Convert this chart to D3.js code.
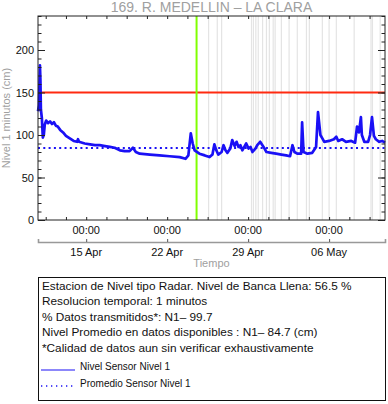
<!DOCTYPE html>
<html><head><meta charset="utf-8">
<script src="https://cdn.jsdelivr.net/npm/d3@7"></script>
<style>body{margin:0;background:#fff}svg{display:block}text{font-family:"Liberation Sans",Arial,Helvetica,sans-serif}</style>
</head><body><svg id="c" width="388" height="404"></svg>
<script>
const title = "169. R. MEDELLIN – LA CLARA";
const yLabel = "Nivel 1 minutos (cm)";
const xLabel = "Tiempo";
const startTime = "2024-04-10T20:00:00";
const spanHours = 720;
const hours = [0,2,3,4,5,6,8,10,12,14,17,21,25,29,33,37,41,46,52,58,66,74,81,83,85,97,108,118,128,139,149,159,170,180,190,197,203,211,232,252,273,294,306,312,317,321,325,335,346,356,362,366,370,374,381,385,389,393,399,403,408,412,416,420,424,428,432,437,441,445,451,455,461,468,474,484,494,505,515,523,528,532,538,546,548,551,559,569,577,581,586,590,594,604,614,619,623,631,639,650,658,662,666,670,672,677,685,689,693,697,701,708,714,720];
const levels = [128,135,160,182,165,130,120,97,100,112,117,114,116,113,115,111,110,106,103,99,96,93,92,95,92,90,89,88,88,87,86,85,82,81,81,85,80,78,77,76,75,74,72,76,102,90,82,78,76,74,77,89,82,77,80,88,82,79,84,94,87,92,86,88,82,86,90,84,86,80,84,88,92,86,80,79,78,77,76,75,88,80,78,78,115,80,78,79,86,127,100,96,92,93,95,98,93,95,92,93,91,110,103,121,100,92,92,100,121,99,95,92,93,91];
const meanLevel = 84.7;
const bankfullLevel = 150;
const markerHour = 329;
const gapHours = [354,372,381,443,447,452,457,466,474,480,488,492,505,521,538,557,563,590,604,619,656,691,694,710];
const yTicks = [0,50,100,150,200];
const majorDates = ["2024-04-15T00:00:00","2024-04-22T00:00:00","2024-04-29T00:00:00","2024-05-06T00:00:00"];
const timeLabels = ["00:00","00:00","00:00","00:00"];
const dateLabels = ["15 Apr","22 Apr","29 Apr","06 May"];
const infoLines = [
  "Estacion de Nivel tipo Radar. Nivel de Banca Llena: 56.5 %",
  "Resolucion temporal: 1 minutos",
  "% Datos transmitidos*: N1– 99.7",
  "Nivel Promedio en datos disponibles : N1– 84.7 (cm)",
  "*Calidad de datos aun sin verificar exhaustivamente"
];
const legendLabels = ["Nivel Sensor Nivel 1","Promedio Sensor Nivel 1"];

const svg = d3.select("#c");
const L = 38, R = 385, T = 16, B = 220;
const t0 = new Date(startTime);
const hr = h => new Date(t0.getTime() + h * 3600e3);
const x = d3.scaleTime().domain([t0, hr(spanHours)]).range([L, R]);
const y = d3.scaleLinear().domain([0, 240]).range([B, T]);
const majors = majorDates.map(d => new Date(d));
const minors = d3.range(-2, 16).map(k => new Date(majors[0].getTime() + k * 42 * 3600e3)).filter(d => d >= t0 && d <= hr(spanHours));

// gap lines
svg.append("g").selectAll("line").data(gapHours).join("line")
  .attr("x1", d => x(hr(d))).attr("x2", d => x(hr(d)))
  .attr("y1", T).attr("y2", B).attr("stroke", "#e4e4e4").attr("stroke-width", 1.2);

// bankfull
svg.append("line").attr("x1", L).attr("x2", R).attr("y1", y(bankfullLevel)).attr("y2", y(bankfullLevel))
  .attr("stroke", "#ff2a10").attr("stroke-width", 2);

// marker
svg.append("line").attr("x1", x(hr(markerHour))).attr("x2", x(hr(markerHour))).attr("y1", T).attr("y2", B)
  .attr("stroke", "#80ff00").attr("stroke-width", 2);

// data line
const pts = hours.map((h, i) => [hr(h), levels[i]]);
svg.append("path").datum(pts)
  .attr("d", d3.line().x(d => x(d[0])).y(d => y(d[1])))
  .attr("fill", "none").attr("stroke", "#1a10f5").attr("stroke-width", 2.7).attr("stroke-linejoin", "round");

// mean
svg.append("line").attr("x1", L).attr("x2", R).attr("y1", y(meanLevel)).attr("y2", y(meanLevel))
  .attr("stroke", "#1a10f5").attr("stroke-width", 2).attr("stroke-dasharray", "2,3.3");

// axes (inward ticks)
function styleAx(g){ g.select(".domain").remove(); g.selectAll("line").attr("stroke","#222"); g.selectAll("text").attr("fill","#111").style("font-family",'"Liberation Sans",Arial,sans-serif'); }
svg.append("g").attr("transform", `translate(0,${B})`).call(d3.axisBottom(x).tickValues(minors).tickSize(-3).tickFormat("")).call(styleAx);
svg.append("g").attr("transform", `translate(0,${T})`).call(d3.axisTop(x).tickValues(minors).tickSize(-3).tickFormat("")).call(styleAx);
svg.append("g").attr("transform", `translate(${L},0)`).call(d3.axisLeft(y).tickValues(d3.range(0, 241, 10)).tickSize(-3.5).tickFormat("")).call(styleAx);
svg.append("g").attr("transform", `translate(${L},0)`).call(d3.axisLeft(y).tickValues(yTicks).tickSize(-7).tickPadding(4)).call(styleAx)
  .selectAll("text").attr("font-size", 11);
svg.append("g").attr("transform", `translate(${R},0)`).call(d3.axisRight(y).tickValues(d3.range(0, 241, 10)).tickSize(-3.5).tickFormat("")).call(styleAx);
svg.append("g").attr("transform", `translate(${R},0)`).call(d3.axisRight(y).tickValues(yTicks).tickSize(-7).tickFormat("")).call(styleAx);

// frame
svg.append("rect").attr("x", L).attr("y", T).attr("width", R - L).attr("height", B - T)
  .attr("fill", "none").attr("stroke", "#222").attr("stroke-width", 1);

// x time labels
svg.append("g").selectAll("text").data(majors).join("text")
  .attr("x", d => x(d)).attr("y", 234).attr("text-anchor", "middle").attr("font-size", 11).attr("fill", "#111")
  .text((d, i) => timeLabels[i]);
// second axis
const ax2 = svg.append("g").attr("transform", "translate(0,242)").call(d3.axisBottom(x).tickValues(majors).tickSize(-3).tickFormat(""));
ax2.select(".domain").attr("stroke", "#999").attr("stroke-width", 1.6);
ax2.selectAll("line").attr("stroke", "#555");
svg.append("g").selectAll("text").data(majors).join("text")
  .attr("x", d => x(d)).attr("y", 256).attr("text-anchor", "middle").attr("font-size", 11).attr("fill", "#111")
  .text((d, i) => dateLabels[i]);

// titles
svg.append("text").attr("x", (L + R) / 2).attr("y", 12).attr("text-anchor", "middle").attr("font-size", 14).attr("fill", "#a0a0a0").text(title);
svg.append("text").attr("x", (L + R) / 2).attr("y", 267).attr("text-anchor", "middle").attr("font-size", 11).attr("fill", "#a0a0a0").text(xLabel);
svg.append("text").attr("transform", `translate(10,${(T + B) / 2}) rotate(-90)`).attr("text-anchor", "middle").attr("font-size", 11).attr("fill", "#a0a0a0").text(yLabel);

// info box
svg.append("rect").attr("x", 38.5).attr("y", 277.5).attr("width", 347).attr("height", 123)
  .attr("fill", "none").attr("stroke", "#111").attr("stroke-width", 1);
svg.append("g").selectAll("text").data(infoLines).join("text")
  .attr("x", 42).attr("y", (d, i) => 289.5 + i * 15.5).attr("font-size", 11.8).attr("fill", "#111").text(d => d);
svg.append("line").attr("x1", 41).attr("x2", 75).attr("y1", 370).attr("y2", 370).attr("stroke", "#1a10f5").attr("stroke-width", 1.2);
svg.append("line").attr("x1", 41).attr("x2", 75).attr("y1", 386).attr("y2", 386).attr("stroke", "#1a10f5").attr("stroke-width", 1.3).attr("stroke-dasharray", "1.3,3.7");
svg.append("g").selectAll("text").data(legendLabels).join("text")
  .attr("x", 80).attr("y", (d, i) => 370 + i * 16.5).attr("font-size", 10).attr("fill", "#111").text(d => d);
</script></body></html>
